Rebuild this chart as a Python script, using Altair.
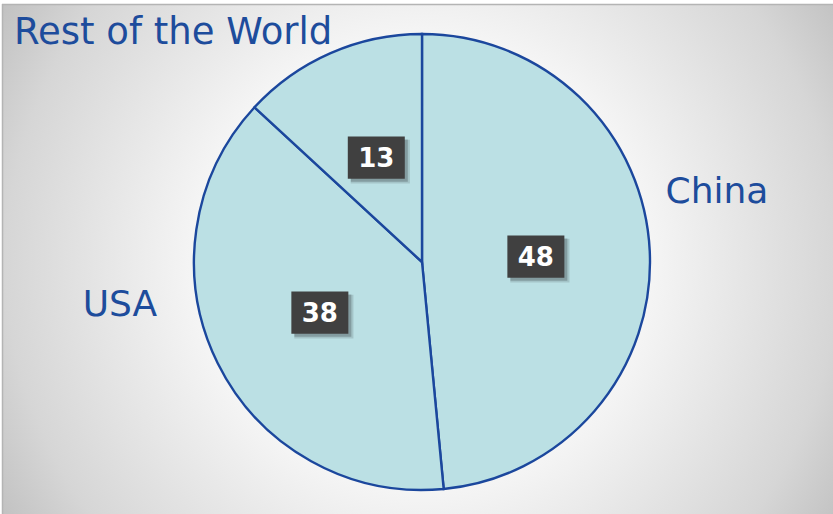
import altair as alt
import pandas as pd

# ---- data ----
labels = ["China", "USA", "Rest of the World"]
values = [48, 38, 13]
slice_order = [0, 1, 2]

df = pd.DataFrame({"label": labels, "value": values, "order": slice_order})

W, H = 833, 514
CX, CY = 422, 262
R = 228
LABEL_R = 114
TXT = "#1d4c9c"

one = pd.DataFrame({"a": [0]})

# background with radial gradient (square box -> circular gradient)
bg = alt.Chart(one).mark_rect(
    fill=alt.Gradient(
        gradient="radial",
        stops=[
            alt.GradientStop(color="#ffffff", offset=0),
            alt.GradientStop(color="#f6f6f6", offset=0.45),
            alt.GradientStop(color="#d6d6d6", offset=0.85),
            alt.GradientStop(color="#c2c2c2", offset=1),
        ],
        x1=0.5, y1=0.5, r1=0, x2=0.5, y2=0.5, r2=0.58,
    )
).encode(x=alt.value(0), x2=alt.value(844), y=alt.value(-160), y2=alt.value(684))

# white margin strips + frame lines
strip_top = alt.Chart(one).mark_rect(fill="white").encode(
    x=alt.value(0), x2=alt.value(W), y=alt.value(0), y2=alt.value(4))
strip_left = alt.Chart(one).mark_rect(fill="white").encode(
    x=alt.value(0), x2=alt.value(2), y=alt.value(0), y2=alt.value(H))
frame_top = alt.Chart(one).mark_rule(color="#b4b4b4", strokeWidth=1.5).encode(
    x=alt.value(2), x2=alt.value(W), y=alt.value(4.5))
frame_left = alt.Chart(one).mark_rule(color="#b4b4b4", strokeWidth=1.5).encode(
    x=alt.value(2.5), y=alt.value(4), y2=alt.value(H))

base = alt.Chart(df)

pie = base.mark_arc(
    fill="#bbe0e4", stroke="#1b479d", strokeWidth=2.4, outerRadius=R
).encode(
    theta=alt.Theta("value:Q", stack=True),
    order=alt.Order("order:Q"),
    detail="label:N",
    x=alt.value(CX),
    y=alt.value(CY),
)

pos = base.transform_joinaggregate(total="sum(value)").transform_window(
    cum="sum(value)", sort=[alt.SortField("order")], frame=[None, 0]
).transform_calculate(
    mid="(datum.cum - datum.value/2) / datum.total * 2 * PI",
    px=f"{CX} + {LABEL_R} * sin(datum.mid)",
    py=f"{CY} - {LABEL_R} * cos(datum.mid)",
)

xe = alt.X("px:Q", scale=None, axis=None)
ye = alt.Y("py:Q", scale=None, axis=None)
box_shape = "M-1,-0.74L1,-0.74L1,0.74L-1,0.74Z"

shadow1 = pos.mark_point(
    shape=box_shape, size=3500, filled=True, fill="#000000", opacity=0.12,
    strokeWidth=0, xOffset=4, yOffset=4,
).encode(x=xe, y=ye)
shadow2 = pos.mark_point(
    shape=box_shape, size=3249, filled=True, fill="#000000", opacity=0.2,
    strokeWidth=0, xOffset=3, yOffset=3,
).encode(x=xe, y=ye)
boxes = pos.mark_point(
    shape=box_shape, size=3249, filled=True, fill="#404040", opacity=1,
    strokeWidth=0,
).encode(x=xe, y=ye)
nums = pos.mark_text(
    font="DejaVu Sans", fontWeight="bold", fontSize=26, color="white",
    align="center", baseline="middle", dy=1,
).encode(x=xe, y=ye, text="value:Q")

def name_label(text, x, y, align, size=36):
    return alt.Chart(one).mark_text(
        text=text, font="DejaVu Sans", fontSize=size, color=TXT,
        align=align, baseline="alphabetic",
    ).encode(x=alt.value(x), y=alt.value(y))

lab_china = name_label(labels[0], 717, 203, "center")
lab_usa = name_label(labels[1], 120, 316, "center")
lab_row = name_label(labels[2], 14, 44, "left", 37)

chart = alt.layer(
    bg, strip_top, strip_left, frame_top, frame_left,
    pie, shadow1, shadow2, boxes, nums, lab_china, lab_usa, lab_row,
).properties(
    width=W, height=H, padding=0, autosize=alt.AutoSizeParams(type="none")
).configure_view(stroke=None)

chart.save("out.html", embed_options={"renderer": "svg", "actions": False})
